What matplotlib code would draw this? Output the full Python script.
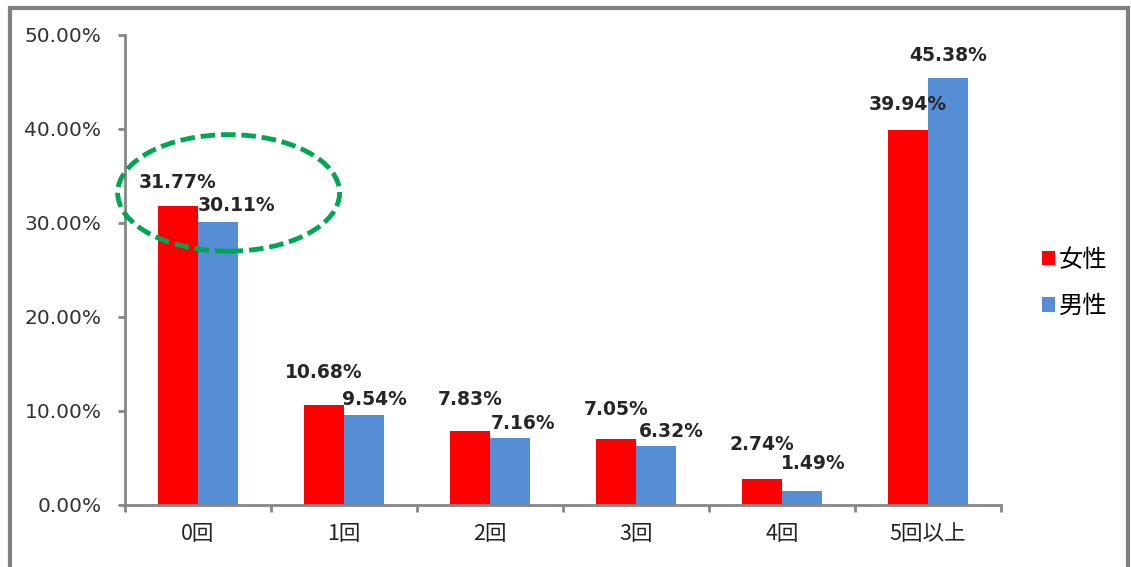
import matplotlib.pyplot as plt
from matplotlib.patches import Ellipse, Rectangle
import numpy as np

plt.rcParams['font.family'] = ['Noto Sans CJK JP', 'DejaVu Sans']

categories = ['0回', '1回', '2回', '3回', '4回', '5回以上']
female = [31.77, 10.68, 7.83, 7.05, 2.74, 39.94]
male = [30.11, 9.54, 7.16, 6.32, 1.49, 45.38]
series_names = ['女性', '男性']
y_ticks = [0, 10, 20, 30, 40, 50]

# label offsets in pixels (dx, dy), excel-like placement
female_off = [(0, 24), (0, 32), (0, 32), (0, 29), (0, 35), (0, 25)]
male_off = [(18, 16), (10, 16), (13, 14), (15, 14), (11, 27), (0, 23)]

red = '#FF0000'
blue = '#558ED5'
axis_gray = '#868686'

fig = plt.figure(figsize=(11.31, 5.67), dpi=100)
ax = fig.add_axes([125 / 1131, 1 - 505 / 567, (1001 - 125) / 1131, 470 / 567])

x = np.arange(len(categories))
w = 0.275
b1 = ax.bar(x - w / 2, female, w, color=red, label=series_names[0])
b2 = ax.bar(x + w / 2, male, w, color=blue, label=series_names[1])

for bars, vals, offs in [(b1, female, female_off), (b2, male, male_off)]:
    for bar, v, (dx, dy) in zip(bars, vals, offs):
        ax.annotate(f'{v:.2f}%', xy=(bar.get_x() + bar.get_width() / 2, v),
                    xytext=(dx, dy), textcoords='offset pixels',
                    ha='center', va='center', fontsize=13.5,
                    fontweight='bold', color='#262626',
                    family=['DejaVu Sans'])

ax.set_xlim(-0.5, len(categories) - 0.5)
ax.set_ylim(0, 50)
ax.set_yticks(y_ticks)
ax.set_yticklabels([f'{t:.2f}%' for t in y_ticks], fontsize=14.5,
                   color='#333333', family=['DejaVu Sans'])
ax.set_xticks(x)
ax.set_xticklabels(categories, fontsize=15.5, color='#222222')
ax.set_xticks(np.arange(-0.5, len(categories)), minor=True)
ax.tick_params(axis='x', which='major', length=0, pad=13)
ax.tick_params(axis='x', which='minor', length=5, width=2, color=axis_gray)
ax.tick_params(axis='y', length=5, width=2, color=axis_gray, pad=12)

for s in ['top', 'right']:
    ax.spines[s].set_visible(False)
for s in ['left', 'bottom']:
    ax.spines[s].set_color(axis_gray)
    ax.spines[s].set_linewidth(2)

# highlight around the first group
ell = Ellipse((0.21, 33.2), 1.52, 12.4, fill=False, edgecolor='#00A651',
              linewidth=3.5, linestyle=(0, (3, 1.2)), clip_on=False, zorder=5)
ax.add_patch(ell)

ax.legend(loc='center left', bbox_to_anchor=(1042 / 1131, 1 - 283 / 567),
          bbox_transform=fig.transFigure, frameon=False, fontsize=17.5,
          handlelength=0.55, handleheight=0.55, handletextpad=0.15,
          labelspacing=0.85, borderpad=0, borderaxespad=0)

# outer frame (bottom edge runs off the picture)
fig.patches.append(Rectangle((10 / 1131, -0.05), 1118 / 1131, 1.05 - 8 / 567,
                             transform=fig.transFigure, fill=False,
                             edgecolor='#7F7F7F', linewidth=3))

fig.savefig('out.png', dpi=100)
